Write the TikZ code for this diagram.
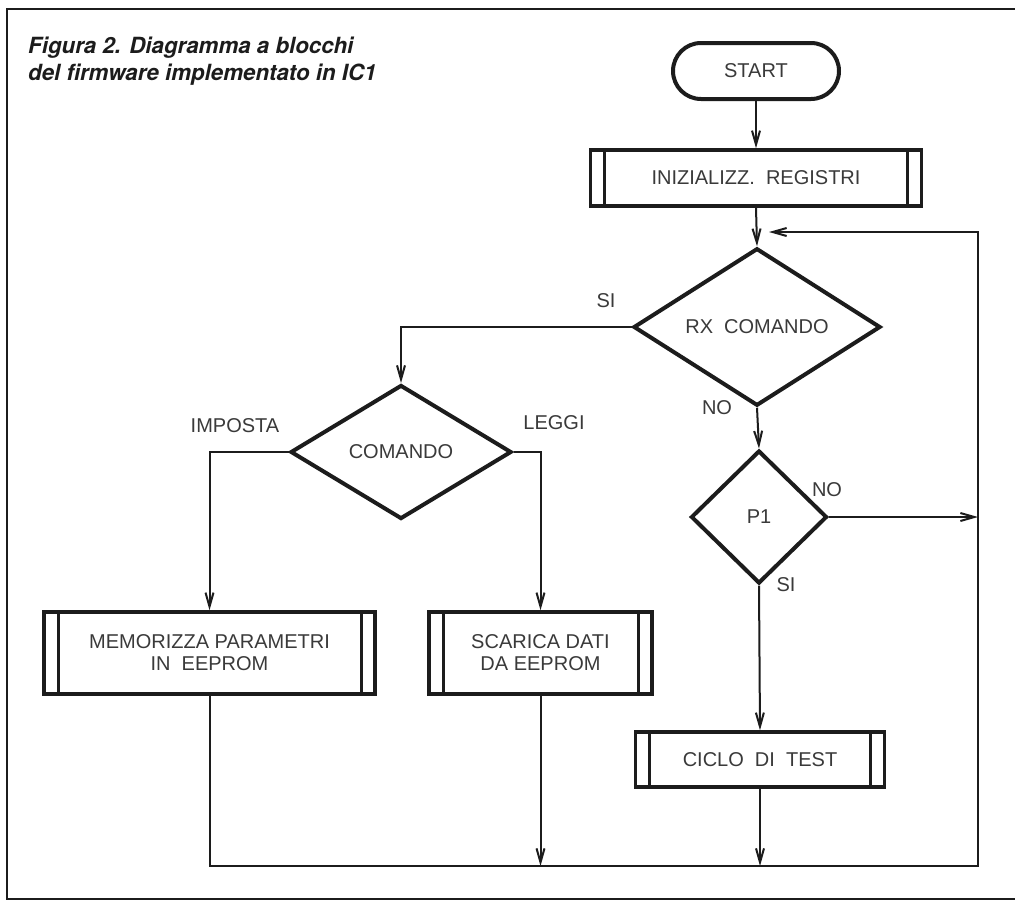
\documentclass[tikz,border=0pt]{standalone}
\usepackage{fontspec}
\setmainfont{Liberation Sans}
\newfontfamily\titlefont{TeX Gyre Heros}
\usetikzlibrary{shapes.geometric,arrows.meta,calc}
\definecolor{ink}{HTML}{1C1C1C}
\definecolor{txt}{HTML}{3A3A3A}
\begin{document}
\begin{tikzpicture}[x=1pt,y=-1pt,
  lbl/.style={font=\fontsize{20}{22}\selectfont, text=txt},
  shapeline/.style={draw=ink, line width=4pt},
  term/.style={shapeline, lbl, rectangle, rounded corners=28pt, minimum width=166pt, minimum height=56pt},
  predef/.style={draw=ink, line width=3.5pt, lbl, rectangle, align=center,
    path picture={\draw[ink, line width=3pt]
      ([xshift=14pt]path picture bounding box.north west) -- ([xshift=14pt]path picture bounding box.south west)
      ([xshift=-14pt]path picture bounding box.north east) -- ([xshift=-14pt]path picture bounding box.south east);}},
  decision/.style={shapeline, lbl, diamond, inner sep=0pt},
  conn/.style={draw=ink, line width=2pt},
  arr/.style={conn, -{Straight Barb[length=14pt,width=8pt,line width=2pt]}},
  tag/.style={lbl, inner sep=0pt},
  ttl/.style={anchor=base west, inner sep=0pt, font=\titlefont\fontsize{22.3}{27}\selectfont\bfseries\itshape, text=ink}
]
\useasboundingbox (0,0) rectangle (1015,905);
\fill[white] (0,0) rectangle (1015,905);
% frame
\draw[ink, line width=2.5pt] (1016,9) -- (7,9) -- (7,899) -- (1016,899);
% title
\node[ttl] (t1) at (28,53) {Figura 2. Diagramma a blocchi};
\node[ttl] (t2) at (28,80) {del firmware implementato in IC1};
% nodes
\node[term] (start) at (756,71) {START};
\node[predef, minimum width=331pt, minimum height=56pt] (init) at (756,178) {INIZIALIZZ.\ \ REGISTRI};
\node[decision, minimum width=247pt, minimum height=134pt] (rx) at (757,327) {RX\ \ COMANDO};
\node[decision, minimum width=221pt, minimum height=134pt] (cmd) at (401,452) {COMANDO};
\node[decision, minimum width=136pt, minimum height=133pt] (p1) at (759,517) {P1};
\node[predef, minimum width=331pt, minimum height=82pt] (mem) at (209.5,653) {MEMORIZZA PARAMETRI\\IN\ \ EEPROM};
\node[predef, minimum width=223pt, minimum height=82pt] (sca) at (540.5,653) {SCARICA DATI\\DA EEPROM};
\node[predef, minimum width=249pt, minimum height=55pt] (ciclo) at (760,759.5) {CICLO\ \ DI\ \ TEST};
% labels
\node[tag] (si1) at (606,301) {SI};
\node[tag] (no1) at (717,408) {NO};
\node[tag] (imp) at (235,426) {IMPOSTA};
\node[tag] (leg) at (554,423) {LEGGI};
\node[tag] (no2) at (827,490) {NO};
\node[tag] (si2) at (786,585) {SI};
% junction coordinates
\coordinate (br) at (978,866);
\coordinate (tr) at (978,232);
\coordinate (le) at (769,232);
% connectors
\draw[arr] (start.south) -- (init.north);
\draw[arr] (init.south) -- (rx.north);
\draw[arr] (rx.west) -| (cmd.north);
\draw[arr] (cmd.west) -| (mem.north);
\draw[arr] (cmd.east) -| (sca.north);
\draw[arr] (rx.south) -- (p1.north);
\draw[arr] (p1.south) -- (ciclo.north);
\draw[arr] (p1.east) -- (p1.east -| br);
\draw[arr] (ciclo.south) -- (ciclo.south |- br);
\draw[arr] (sca.south) -- (sca.south |- br);
\draw[arr] (mem.south) -- (mem.south |- br) -- (br) -- (tr) -- (le);
\end{tikzpicture}
\end{document}
